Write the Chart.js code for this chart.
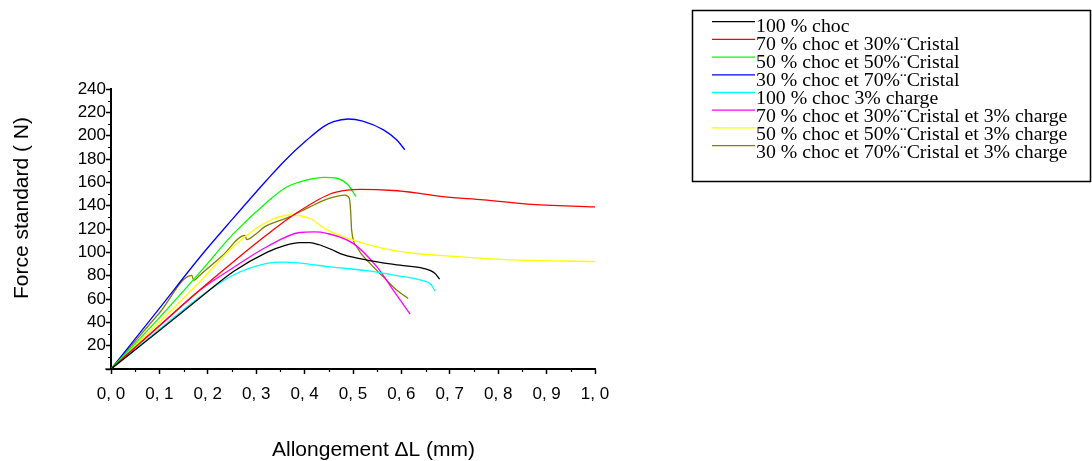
<!DOCTYPE html>
<html>
<head>
<meta charset="utf-8">
<script src="https://cdn.jsdelivr.net/npm/chart.js@4.4.0/dist/chart.umd.min.js"></script>
<style>
  html, body { margin: 0; padding: 0; background: #fff; }
  #wrap { width: 1092px; height: 461px; position: relative; }
</style>
</head>
<body>
<div id="wrap"><canvas id="c"></canvas></div>
<script>
// ── Données : [allongement (mm), force (N)] ────────────────────────
const choc100 = [[0,0],[0.1,33],[0.184,61],[0.253,83.5],[0.322,100],[0.36,106],[0.39,108.3],[0.411,108.3],[0.43,106.5],[0.455,102.5],[0.48,98],[0.528,93.4],[0.597,89],[0.645,86.3],[0.669,82],[0.679,77]];
const choc70cr30 = [[0,0],[0.1,37],[0.184,68],[0.253,92],[0.322,115],[0.377,132],[0.4525,150],[0.488,153.4],[0.515,154],[0.583,153],[0.63,151],[0.686,147.7],[0.77,145],[0.86,141.4],[1.0,139]];
const choc50cr50 = [[0,0],[0.1,44],[0.184,83],[0.253,116],[0.322,143],[0.363,156],[0.404,162],[0.44,164.3],[0.466,163.5],[0.49,157.7],[0.506,147.7]];
const choc30cr70 = [[0,0],[0.1,52],[0.184,96],[0.25,128],[0.322,162],[0.36,179],[0.404,196],[0.44,208],[0.46,212],[0.49,214.3],[0.52,212.5],[0.563,205],[0.59,196.5],[0.607,188]];
const choc100ch3 = [[0,0],[0.1,34],[0.184,62],[0.253,80.6],[0.322,90.5],[0.356,91.6],[0.39,90.8],[0.4525,87.5],[0.528,84.3],[0.597,79.7],[0.638,76.3],[0.662,72],[0.669,67]];
const choc70cr30ch3 = [[0,0],[0.1,37],[0.184,67.7],[0.253,87],[0.322,104.8],[0.39,117],[0.42,117.5],[0.4456,116.3],[0.5,107.7],[0.549,87.7],[0.583,67.7],[0.618,47]];
const choc50cr50ch3 = [[0,0],[0.1,40],[0.184,75],[0.253,105],[0.322,126],[0.37,132],[0.411,129],[0.4456,119.5],[0.5,110.5],[0.562,103.4],[0.63,99],[0.7,96.7],[0.804,94],[1.0,92]];
const choc30cr70ch3 = [[0,0],[0.1,48],[0.167,80.3],[0.171,76],[0.184,80.6],[0.23,97],[0.2768,114.5],[0.2803,111],[0.3,116],[0.318,122],[0.37,130.6],[0.411,139],[0.449,146],[0.4835,149.1],[0.4924,146.3],[0.495,136.3],[0.4972,119],[0.5076,104.8],[0.535,90.5],[0.5626,79],[0.59,67.7],[0.614,60.5]];

const seriesData   = [choc100, choc70cr30, choc50cr50, choc30cr70, choc100ch3, choc70cr30ch3, choc50cr50ch3, choc30cr70ch3];
const seriesLabels = [
  '100 % choc',
  '70 % choc et 30%\u00A8Cristal',
  '50 % choc et 50%\u00A8Cristal',
  '30 % choc et 70%\u00A8Cristal',
  '100 % choc 3% charge',
  '70 % choc et 30%\u00A8Cristal et 3% charge',
  '50 % choc et 50%\u00A8Cristal et 3% charge',
  '30 % choc et 70%\u00A8Cristal et 3% charge',
];
const seriesColors = ['#000000', '#ff0000', '#00ff00', '#0000ff', '#00ffff', '#ff00ff', '#ffff00', '#808000'];

const X_MIN = 0, X_MAX = 1, X_STEP = 0.1;
const Y_MIN = 0, Y_MAX = 240, Y_STEP = 20;
const X_TITLE = 'Allongement \u0394L (mm)';
const Y_TITLE = 'Force standard ( N)';

const SANS  = 'Arial, "Liberation Sans", sans-serif';
const SERIF = '"Times New Roman", "Liberation Serif", serif';

// petites graduations + titres d'axes
const extrasPlugin = {
  id: 'extras',
  afterDraw(chart) {
    const ctx = chart.ctx;
    const xs = chart.scales.x, ys = chart.scales.y;
    const a = chart.chartArea;
    ctx.save();
    ctx.strokeStyle = '#000';
    ctx.lineWidth = 1.2;
    ctx.beginPath();
    for (let v = Y_MIN + Y_STEP / 2; v < Y_MAX; v += Y_STEP) {
      const py = Math.round(ys.getPixelForValue(v)) + 0.5;
      ctx.moveTo(a.left - 3, py); ctx.lineTo(a.left, py);
    }
    for (let v = X_MIN + X_STEP / 2; v < X_MAX; v += X_STEP) {
      const px = Math.round(xs.getPixelForValue(v)) + 0.5;
      ctx.moveTo(px, a.bottom); ctx.lineTo(px, a.bottom + 3);
    }
    // l'axe x déborde un peu à gauche
    ctx.moveTo(a.left - 6, a.bottom); ctx.lineTo(a.left, a.bottom);
    ctx.stroke();

    ctx.fillStyle = '#000';
    ctx.font = '21px ' + SANS;
    ctx.textBaseline = 'alphabetic';
    ctx.textAlign = 'left';
    ctx.fillText(X_TITLE, 272, 456);

    ctx.translate(28, 208);
    ctx.rotate(-Math.PI / 2);
    ctx.textAlign = 'center';
    ctx.fillText(Y_TITLE, 0, 0);
    ctx.restore();
  }
};

// légende encadrée à droite
const legendBoxPlugin = {
  id: 'legendBox',
  afterDraw(chart) {
    const ctx = chart.ctx;
    ctx.save();
    ctx.strokeStyle = '#000';
    ctx.lineWidth = 1.5;
    ctx.strokeRect(692.5, 10.5, 398, 171);
    ctx.font = '18px ' + SERIF;
    ctx.textBaseline = 'alphabetic';
    ctx.textAlign = 'left';
    chart.data.datasets.forEach((ds, i) => {
      const ly = 21.7 + i * 17.7;
      ctx.strokeStyle = ds.borderColor;
      ctx.lineWidth = 1.3;
      ctx.beginPath();
      ctx.moveTo(712, ly); ctx.lineTo(755, ly);
      ctx.stroke();
      ctx.fillStyle = '#000';
      ctx.save();
      ctx.translate(756, 31.7 + i * 18.1);
      ctx.scale(1.1, 1);
      ctx.fillText(ds.label, 0, 0);
      ctx.restore();
    });
    ctx.restore();
  }
};

new Chart(document.getElementById('c'), {
  type: 'line',
  data: {
    datasets: seriesData.map((pts, i) => ({
      label: seriesLabels[i],
      data: pts.map(([x, y]) => ({ x, y })),
      borderColor: seriesColors[i],
      borderWidth: 1.3,
      pointRadius: 0,
      fill: false,
      cubicInterpolationMode: 'monotone',
    })),
  },
  options: {
    responsive: true,
    maintainAspectRatio: false,
    animation: false,
    devicePixelRatio: 1,
    layout: { padding: { left: 0, top: 89, right: 497, bottom: 0 } },
    plugins: { legend: { display: false }, tooltip: { enabled: false } },
    scales: {
      x: {
        type: 'linear',
        min: X_MIN, max: X_MAX,
        afterFit: s => { s.height = 92; },
        border: { color: '#000', width: 2 },
        grid: { drawOnChartArea: false, drawTicks: true, tickLength: 5, color: '#000', tickWidth: 1.5 },
        ticks: {
          stepSize: X_STEP,
          autoSkip: false,
          color: '#000',
          padding: 10,
          maxRotation: 0,
          font: { family: SANS, size: 17 },
          callback: v => v.toFixed(1).replace('.', ', '),
        },
      },
      y: {
        min: Y_MIN, max: Y_MAX,
        afterFit: s => { s.width = 111; },
        border: { color: '#000', width: 2 },
        grid: { drawOnChartArea: false, drawTicks: true, tickLength: 5, color: '#000', tickWidth: 1.5 },
        ticks: {
          stepSize: Y_STEP,
          autoSkip: false,
          color: '#000',
          padding: 0,
          font: { family: SANS, size: 17 },
          callback: v => (v === 0 ? '' : v),
        },
      },
    },
  },
  plugins: [extrasPlugin, legendBoxPlugin],
});
</script>
</body>
</html>
